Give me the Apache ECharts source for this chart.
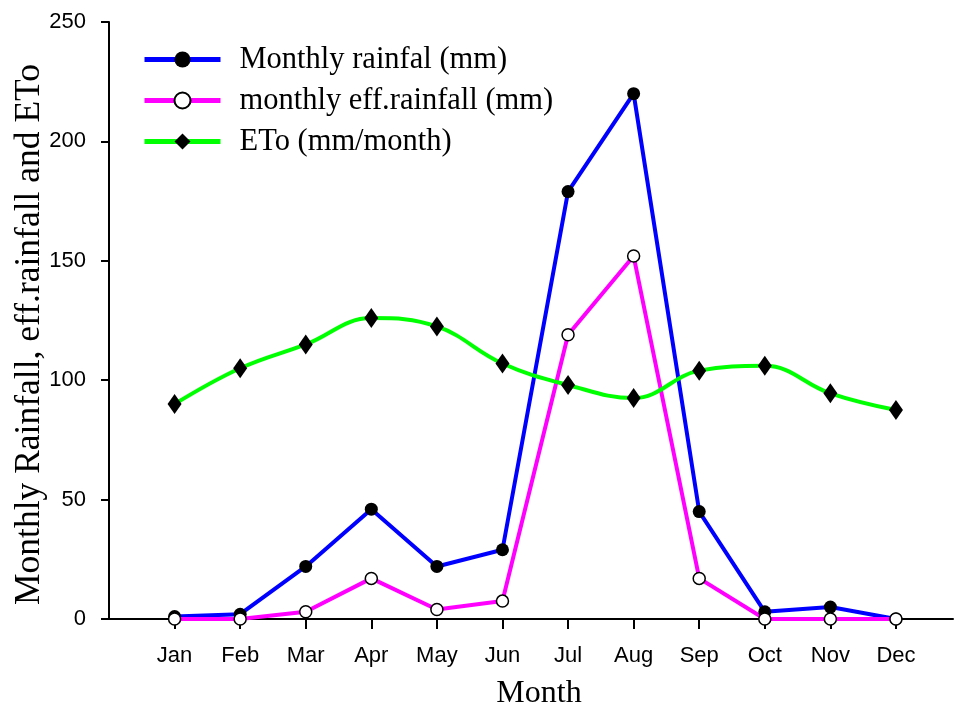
<!DOCTYPE html>
<html><head><meta charset="utf-8">
<script src="https://cdn.jsdelivr.net/npm/echarts@6/dist/echarts.min.js"></script>
<style>html,body{margin:0;padding:0;background:#fff}#c{width:955px;height:710px}</style>
</head><body><div id="c"></div>
<script>
const months = ['Jan','Feb','Mar','Apr','May','Jun','Jul','Aug','Sep','Oct','Nov','Dec'];
const rainfall = [1, 2, 22, 46, 22, 29, 179, 220, 45, 3, 5, 0];
const effRainfall = [0, 0, 3, 17, 4, 7.5, 119, 152, 17, 0, 0, 0];
const eto = [90, 105, 115, 126, 122.5, 107, 98, 92.5, 104, 106, 94.5, 87.5];
const yTicks = [0, 50, 100, 150, 200, 250];

const pts = arr => arr.map((v, i) => [i + 1, v]);
const monthIdx = months.map((m, i) => i + 1);
const serif = 'Liberation Serif, Times New Roman, serif';
const sans = 'Liberation Sans, Arial, sans-serif';

const chart = echarts.init(document.getElementById('c'));
chart.setOption({
  animation: false,
  grid: {left: 109, right: 2, top: 22, bottom: 91, containLabel: false, outerBoundsMode: 'none'},
  legend: {
    left: 137, top: 39, orient: 'vertical', itemWidth: 76, itemHeight: 20, itemGap: 10,
    lineStyle: {width: 5},
    textStyle: {fontFamily: serif, fontSize: 30.5, color: '#000', padding: [0,0,0,14]},
    data: ['Monthly rainfal (mm)', 'monthly eff.rainfall (mm)', 'ETo (mm/month)']
  },
  xAxis: {
    type: 'value', min: 0, max: 12.87, interval: 1,
    name: 'Month', nameLocation: 'middle', nameGap: 59,
    nameTextStyle: {fontFamily: serif, fontSize: 32, color: '#000', padding: [0,0,0,16]},
    axisLine: {lineStyle: {color: '#000', width: 2}},
    axisTick: {customValues: monthIdx, length: 10, lineStyle: {color: '#000', width: 2}},
    axisLabel: {customValues: monthIdx, formatter: v => months[v - 1] || '', fontFamily: sans, fontSize: 22, color: '#000', margin: 26},
    splitLine: {show: false}
  },
  yAxis: {
    type: 'value', min: yTicks[0], max: yTicks[yTicks.length - 1], interval: 50,
    name: 'Monthly Rainfall, eff.rainfall and ETo', nameLocation: 'middle', nameGap: 61, nameMoveOverlap: false,
    nameTextStyle: {fontFamily: serif, fontSize: 35.5, color: '#000', padding: [0,0,0,-28]},
    axisLine: {show: true, lineStyle: {color: '#000', width: 2}},
    axisTick: {show: true, length: 8, lineStyle: {color: '#000', width: 2}},
    axisLabel: {fontFamily: sans, fontSize: 22, color: '#000', margin: 23},
    splitLine: {show: false}
  },
  series: [
    {name: 'Monthly rainfal (mm)', type: 'line', data: pts(rainfall),
     lineStyle: {color: '#0000ff', width: 4}, itemStyle: {color: '#000'},
     symbol: 'circle', symbolSize: 13, showAllSymbol: true},
    {name: 'monthly eff.rainfall (mm)', type: 'line', data: pts(effRainfall),
     lineStyle: {color: '#ff00ff', width: 4}, itemStyle: {color: '#fff', borderColor: '#000', borderWidth: 1.5},
     symbol: 'circle', symbolSize: 12, showAllSymbol: true},
    {name: 'ETo (mm/month)', type: 'line', data: pts(eto), smooth: 0.4,
     lineStyle: {color: '#00ff00', width: 4}, itemStyle: {color: '#000'},
     symbol: 'diamond', symbolSize: [14, 20], showAllSymbol: true}
  ]
});
</script></body></html>
